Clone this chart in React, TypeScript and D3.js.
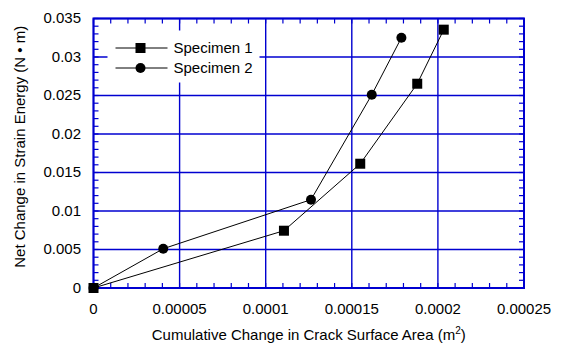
import * as d3 from "d3";
import { useEffect, useRef } from "react";

// cumulative change in crack surface area (m^2) / net change in strain energy (N m)
const spec1X = [0, 0.0001106, 0.0001549, 0.000188, 0.0002034];
const spec1Y = [0, 0.00744, 0.01614, 0.02653, 0.03355];
const spec2X = [0, 0.0000405, 0.0001263, 0.0001616, 0.0001788];
const spec2Y = [0, 0.0051, 0.01147, 0.0251, 0.0325];

const xTicks = [0, 0.00005, 0.0001, 0.00015, 0.0002, 0.00025];
const xTickLabels = ["0", "0.00005", "0.0001", "0.00015", "0.0002", "0.00025"];
const yTicks = [0, 0.005, 0.01, 0.015, 0.02, 0.025, 0.03, 0.035];
const yTickLabels = ["0", "0.005", "0.01", "0.015", "0.02", "0.025", "0.03", "0.035"];
const seriesNames = ["Specimen 1", "Specimen 2"];

export default function App() {
  const ref = useRef<SVGSVGElement>(null);

  useEffect(() => {
    const width = 562;
    const height = 344;
    const margin = { top: 18.5, right: 38, bottom: 56, left: 93.5 };
    const innerWidth = width - margin.left - margin.right;
    const innerHeight = height - margin.top - margin.bottom;
    const blue = "#0000d0";
    const font = "Liberation Sans, Arial, sans-serif";
    const fs = 15;

    const svg = d3.select(ref.current);
    svg.selectAll("*").remove();
    svg.attr("width", width).attr("height", height);

    const xScale = d3.scaleLinear().domain([0, 0.00025]).range([0, innerWidth]);
    const yScale = d3.scaleLinear().domain([0, 0.035]).range([innerHeight, 0]);

    const g = svg
      .append("g")
      .attr("transform", `translate(${margin.left},${margin.top})`);

    // grid
    g.selectAll(".vgrid")
      .data(xTicks)
      .enter()
      .append("line")
      .attr("x1", (d) => xScale(d))
      .attr("x2", (d) => xScale(d))
      .attr("y1", 0)
      .attr("y2", innerHeight)
      .attr("stroke", blue)
      .attr("stroke-width", 1.4);
    g.selectAll(".hgrid")
      .data(yTicks)
      .enter()
      .append("line")
      .attr("y1", (d) => yScale(d))
      .attr("y2", (d) => yScale(d))
      .attr("x1", 0)
      .attr("x2", innerWidth)
      .attr("stroke", blue)
      .attr("stroke-width", 1.7);

    // minor ticks
    const xMinor = xScale.ticks(25);
    const yMinor = yScale.ticks(35);
    const tickLen = 5;
    xMinor.forEach((v) => {
      g.append("line")
        .attr("x1", xScale(v)).attr("x2", xScale(v))
        .attr("y1", innerHeight).attr("y2", innerHeight - tickLen)
        .attr("stroke", blue).attr("stroke-width", 1.2);
      g.append("line")
        .attr("x1", xScale(v)).attr("x2", xScale(v))
        .attr("y1", 0).attr("y2", tickLen)
        .attr("stroke", blue).attr("stroke-width", 1.2);
    });
    yMinor.forEach((v) => {
      g.append("line")
        .attr("y1", yScale(v)).attr("y2", yScale(v))
        .attr("x1", 0).attr("x2", tickLen)
        .attr("stroke", blue).attr("stroke-width", 1.2);
      g.append("line")
        .attr("y1", yScale(v)).attr("y2", yScale(v))
        .attr("x1", innerWidth).attr("x2", innerWidth - tickLen)
        .attr("stroke", blue).attr("stroke-width", 1.2);
    });

    // legend box (covers grid)
    const legend = g.append("g").attr("transform", `translate(14,12)`);
    legend
      .append("rect")
      .attr("x", 0)
      .attr("y", 0)
      .attr("width", 152)
      .attr("height", 52)
      .attr("fill", "white");

    // frame
    g.append("rect")
      .attr("width", innerWidth)
      .attr("height", innerHeight)
      .attr("fill", "none")
      .attr("stroke", blue)
      .attr("stroke-width", 2);

    // axes labels
    g.selectAll(".xlab")
      .data(xTicks)
      .enter()
      .append("text")
      .attr("x", (d) => xScale(d))
      .attr("y", innerHeight + 25.5)
      .attr("text-anchor", "middle")
      .attr("font-family", font)
      .attr("font-size", fs)
      .text((d, i) => xTickLabels[i]);
    g.selectAll(".ylab")
      .data(yTicks)
      .enter()
      .append("text")
      .attr("x", -12.5)
      .attr("y", (d) => yScale(d) + 4.5)
      .attr("text-anchor", "end")
      .attr("font-family", font)
      .attr("font-size", fs)
      .text((d, i) => yTickLabels[i]);

    const xTitle = g
      .append("text")
      .attr("x", innerWidth / 2)
      .attr("y", innerHeight + 52)
      .attr("text-anchor", "middle")
      .attr("font-family", font)
      .attr("font-size", fs);
    xTitle.append("tspan").text("Cumulative Change in Crack Surface Area (m");
    xTitle.append("tspan").attr("dy", -6).attr("font-size", 10).text("2");
    xTitle.append("tspan").attr("dy", 6).text(")");

    g.append("text")
      .attr("transform", `translate(${-68.5},${innerHeight / 2 - 6.5}) rotate(-90)`)
      .attr("text-anchor", "middle")
      .attr("font-family", font)
      .attr("font-size", fs)
      .text("Net Change in Strain Energy (N \u2022 m)");

    // series
    const line = d3
      .line<[number, number]>()
      .x((d) => xScale(d[0]))
      .y((d) => yScale(d[1]));
    const s1 = spec1X.map((x, i) => [x, spec1Y[i]] as [number, number]);
    const s2 = spec2X.map((x, i) => [x, spec2Y[i]] as [number, number]);

    g.append("path").attr("d", line(s2)).attr("fill", "none").attr("stroke", "black").attr("stroke-width", 1);
    g.append("path").attr("d", line(s1)).attr("fill", "none").attr("stroke", "black").attr("stroke-width", 1);

    g.selectAll(".c2")
      .data(s2)
      .enter()
      .append("circle")
      .attr("cx", (d) => xScale(d[0]))
      .attr("cy", (d) => yScale(d[1]))
      .attr("r", 5);
    g.selectAll(".s1")
      .data(s1)
      .enter()
      .append("rect")
      .attr("x", (d) => xScale(d[0]) - 5)
      .attr("y", (d) => yScale(d[1]) - 5)
      .attr("width", 10)
      .attr("height", 10);

    // legend entries
    seriesNames.forEach((name, i) => {
      const y = 17.5 + i * 20;
      legend.append("line")
        .attr("x1", 8).attr("x2", 60).attr("y1", y).attr("y2", y)
        .attr("stroke", "black").attr("stroke-width", 1);
      if (i === 0) {
        legend.append("rect").attr("x", 28).attr("y", y - 5).attr("width", 10).attr("height", 10);
      } else {
        legend.append("circle").attr("cx", 33).attr("cy", y).attr("r", 5);
      }
      legend.append("text")
        .attr("x", 66).attr("y", y + 5)
        .attr("font-family", font)
        .attr("font-size", fs)
        .text(name);
    });
  }, []);

  return <svg ref={ref} style={{ position: "absolute", left: 0, top: 0 }}></svg>;
}
